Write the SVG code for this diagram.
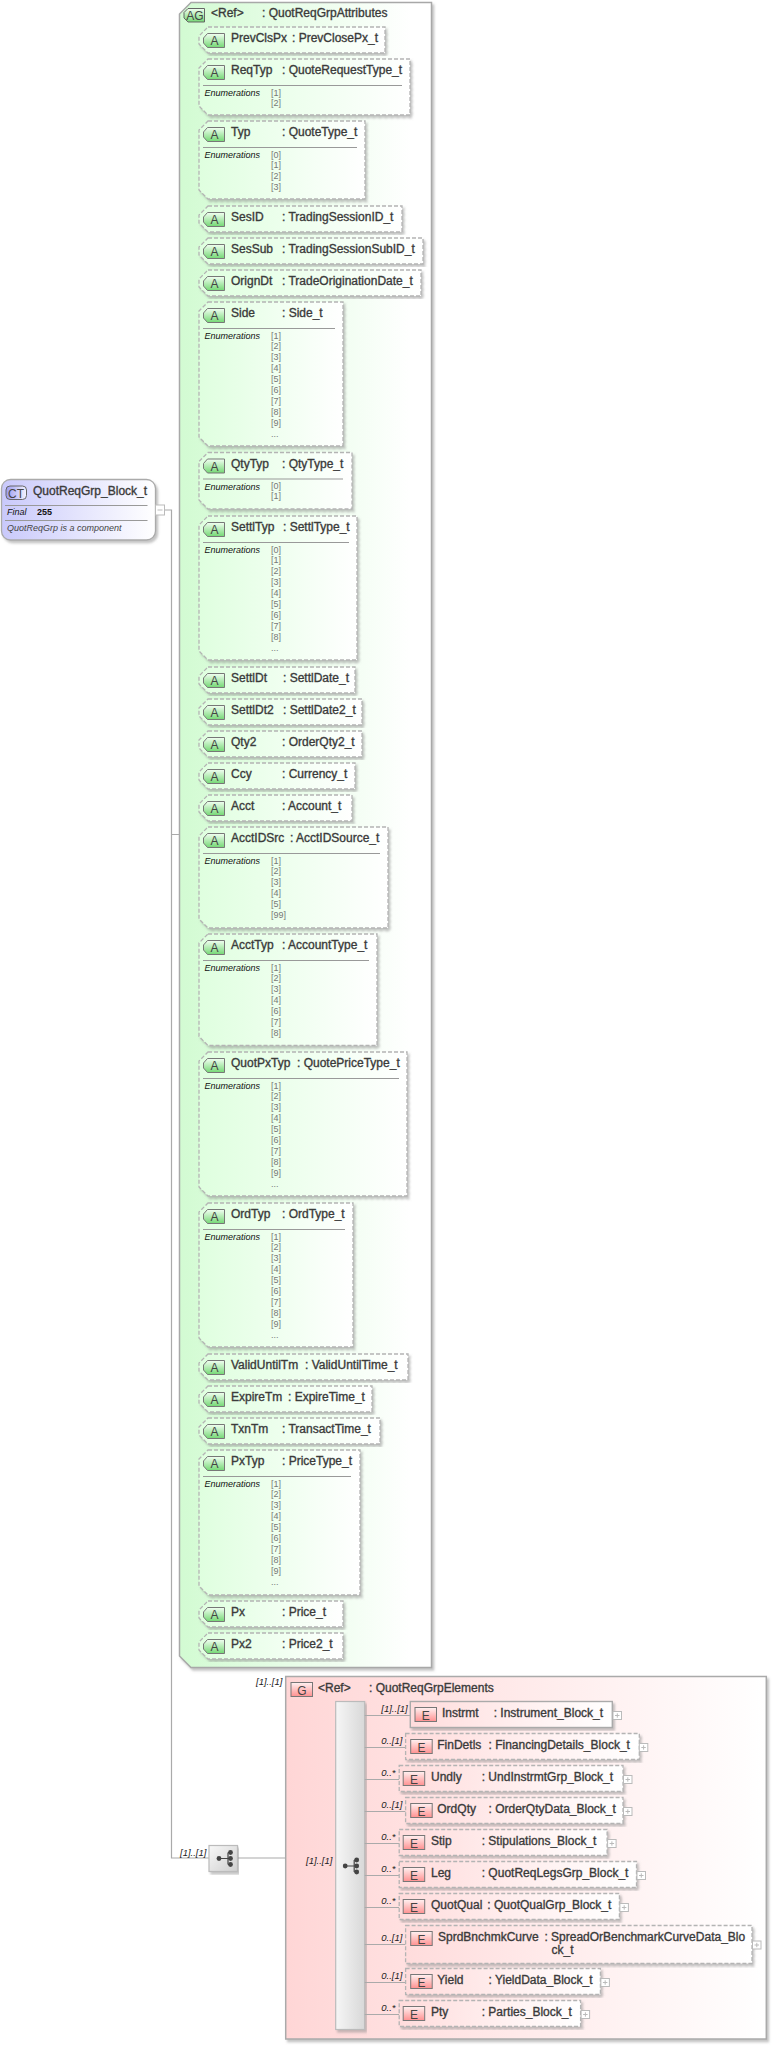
<svg xmlns="http://www.w3.org/2000/svg" xmlns:xlink="http://www.w3.org/1999/xlink" width="774" height="2045" viewBox="0 0 774 2045">
<style>
text{font-family:"Liberation Sans",Arial,sans-serif;fill:#333;font-size:12px}
.t{stroke:#444;stroke-width:.35}
.ic{text-anchor:middle;font-size:12px;fill:#444}
.en{font-size:9px;font-style:italic;fill:#111}
.v{font-size:9px;fill:#777}
.c{font-size:9.5px;font-style:italic;fill:#222}
.ab{fill:url(#gA);stroke:#b4b4b4;stroke-width:1.3;stroke-dasharray:4 2;filter:url(#sh)}
.eb{fill:url(#gE);stroke:#b4b4b4;stroke-width:1.3;stroke-dasharray:4 2;filter:url(#sh)}
.es{fill:url(#gE);stroke:#aaa;stroke-width:1.4;filter:url(#sh)}
.ln{stroke:#999;stroke-width:1;fill:none}
.cn{stroke:#aaa;stroke-width:1.2;fill:none}
.pb{fill:#fff;stroke:#bbb;stroke-width:1}
.pm{stroke:#bbb;stroke-width:1;fill:none}
.dot{fill:#444}
.sy{stroke:#444;stroke-width:1.2;fill:none}
</style>
<defs>
<filter id="sh" x="-5%" y="-5%" width="110%" height="115%"><feDropShadow dx="2" dy="2.5" stdDeviation="1" flood-color="#888" flood-opacity=".5"/></filter>
<linearGradient id="gAG"><stop offset="0" stop-color="#d2fbd2"/><stop offset=".92" stop-color="#fff"/></linearGradient>
<linearGradient id="gA"><stop offset="0" stop-color="#dfffdf"/><stop offset="1" stop-color="#fff"/></linearGradient>
<linearGradient id="gG"><stop offset="0" stop-color="#ffd6d6"/><stop offset="1" stop-color="#fff"/></linearGradient>
<linearGradient id="gE"><stop offset="0" stop-color="#ffdcdc"/><stop offset="1" stop-color="#fff"/></linearGradient>
<linearGradient id="gC"><stop offset="0" stop-color="#c9c9fb"/><stop offset="1" stop-color="#fff"/></linearGradient>
<linearGradient id="gCi"><stop offset="0" stop-color="#9c9cf0"/><stop offset="1" stop-color="#f4f4ff"/></linearGradient>
<linearGradient id="giA" x2="0" y2="1"><stop offset="0" stop-color="#f2fff2"/><stop offset="1" stop-color="#74d874"/></linearGradient>
<linearGradient id="giE" x2="0" y2="1"><stop offset="0" stop-color="#fff2f2"/><stop offset="1" stop-color="#ff9090"/></linearGradient>
<linearGradient id="gS"><stop offset="0" stop-color="#f6f6f6"/><stop offset="1" stop-color="#d8d8d8"/></linearGradient>
<linearGradient id="gS2" x2="1" y2="1"><stop offset="0" stop-color="#f8f8f8"/><stop offset="1" stop-color="#cfcfcf"/></linearGradient>
<path id="iA" d="M4.5,.5H21.5V14.5H4.5L.5,10V5Z" fill="url(#giA)" stroke="#777"/>
<rect id="iE" width="21.5" height="14" fill="url(#giE)" stroke="#777"/>
<g id="sym"><path class="sy" d="M0,0H9M9,-6V6M9,-6H11.5M9,0H11.5M9,6H11.5"/><circle class="dot" cx="0" cy="0" r="2.4"/><circle class="dot" cx="11.5" cy="-6" r="2.4"/><circle class="dot" cx="11.5" cy="0" r="2.4"/><circle class="dot" cx="11.5" cy="6" r="2.4"/></g>
</defs>

<g id="connectors">
<path class="cn" d="M164.5,510H171.5V1858H209M171.5,834.5H179M238,1858H285.700M285.700,1866H335.700"/>
<path class="cn" d="M189,40V1646M189,40H199M189,87.5H199M189,160H199M189,219H199M189,251H199M189,283H199M189,374.5H199M189,481H199M189,588H199M189,680H199M189,712H199M189,744H199M189,776H199M189,808H199M189,877.5H199M189,989H199M189,1124H199M189,1275H199M189,1367H199M189,1399H199M189,1431H199M189,1522.5H199M189,1614H199M189,1646H199"/>
</g>

<g id="QuotReqGrp_Block_t">
<rect x="1.5" y="479.5" width="154" height="60.5" rx="9" fill="url(#gC)" stroke="#aaa" stroke-width="1.3" filter="url(#sh)"/>
<rect x="6" y="486" width="20.5" height="13.5" rx="4" fill="url(#gCi)" stroke="#666"/>
<text class="ic" x="16" y="497.5">CT</text>
<text class="t" x="33" y="494.5">QuotReqGrp_Block_t</text>
<path class="ln" d="M5,505.5H147.5M5,520.5H147.5"/>
<text class="en" x="7" y="515">Final</text>
<text x="37" y="515" style="font-size:9px;font-weight:bold;fill:#111">255</text>
<text class="en" x="7" y="531" style="fill:#444">QuotReqGrp is a component</text>
<rect class="pb" x="155.5" y="505" width="9" height="10"/>
<path class="pm" d="M157.5,510H162.5"/>
</g>

<g id="QuotReqGrpAttributes">
<path d="M191,2.5H431.5V1667.5H191L179.5,1656V14Z" fill="url(#gAG)" stroke="#a8a8a8" stroke-width="1.5" filter="url(#sh)"/>
<path d="M188,8.5H204.5V22H188L184,18V12.5Z" fill="url(#giA)" stroke="#666"/>
<text class="ic" x="195" y="19.5">AG</text>
<text class="t" x="211" y="17">&lt;Ref&gt;</text>
<text class="t" x="262" y="17">: QuotReqGrpAttributes</text>
</g>

<g id="PrevClsPx" transform="translate(199,27)"><path class="ab" d="M9,0H186V26H9L0,17V9Z"/><use xlink:href="#iA" href="#iA" x="4" y="6"/><text class="ic" x="15.5" y="18">A</text><text class="t" x="32" y="15">PrevClsPx</text><text class="t" x="93" y="15">: PrevClosePx_t</text></g>

<g id="ReqTyp" transform="translate(199,59)"><path class="ab" d="M9,0H211V56H9L0,47V9Z"/><use xlink:href="#iA" href="#iA" x="4" y="6"/><text class="ic" x="15.5" y="18">A</text><text class="t" x="32" y="15">ReqTyp</text><text class="t" x="83" y="15">: QuoteRequestType_t</text><path class="ln" d="M4,26.5H203"/><text class="en" x="5.5" y="37">Enumerations</text><text class="v" x="72" y="36.5">[1]</text><text class="v" x="72" y="46.5">[2]</text></g>

<g id="Typ" transform="translate(199,121)"><path class="ab" d="M9,0H166V78H9L0,69V9Z"/><use xlink:href="#iA" href="#iA" x="4" y="6"/><text class="ic" x="15.5" y="18">A</text><text class="t" x="32" y="15">Typ</text><text class="t" x="83" y="15">: QuoteType_t</text><path class="ln" d="M4,26.5H158"/><text class="en" x="5.5" y="37">Enumerations</text><text class="v" x="72" y="36.5">[0]</text><text class="v" x="72" y="46.5">[1]</text><text class="v" x="72" y="57.5">[2]</text><text class="v" x="72" y="68.5">[3]</text></g>

<g id="SesID" transform="translate(199,206)"><path class="ab" d="M9,0H203V26H9L0,17V9Z"/><use xlink:href="#iA" href="#iA" x="4" y="6"/><text class="ic" x="15.5" y="18">A</text><text class="t" x="32" y="15">SesID</text><text class="t" x="83" y="15">: TradingSessionID_t</text></g>

<g id="SesSub" transform="translate(199,238)"><path class="ab" d="M9,0H224V26H9L0,17V9Z"/><use xlink:href="#iA" href="#iA" x="4" y="6"/><text class="ic" x="15.5" y="18">A</text><text class="t" x="32" y="15">SesSub</text><text class="t" x="83" y="15">: TradingSessionSubID_t</text></g>

<g id="OrignDt" transform="translate(199,270)"><path class="ab" d="M9,0H222V26H9L0,17V9Z"/><use xlink:href="#iA" href="#iA" x="4" y="6"/><text class="ic" x="15.5" y="18">A</text><text class="t" x="32" y="15">OrignDt</text><text class="t" x="83" y="15">: TradeOriginationDate_t</text></g>

<g id="Side" transform="translate(199,302)"><path class="ab" d="M9,0H144V144H9L0,135V9Z"/><use xlink:href="#iA" href="#iA" x="4" y="6"/><text class="ic" x="15.5" y="18">A</text><text class="t" x="32" y="15">Side</text><text class="t" x="83" y="15">: Side_t</text><path class="ln" d="M4,26.5H136"/><text class="en" x="5.5" y="37">Enumerations</text><text class="v" x="72" y="36.5">[1]</text><text class="v" x="72" y="46.5">[2]</text><text class="v" x="72" y="57.5">[3]</text><text class="v" x="72" y="68.5">[4]</text><text class="v" x="72" y="79.5">[5]</text><text class="v" x="72" y="90.5">[6]</text><text class="v" x="72" y="101.5">[7]</text><text class="v" x="72" y="112.5">[8]</text><text class="v" x="72" y="123.5">[9]</text><text class="v" x="72" y="134.5">...</text></g>

<g id="QtyTyp" transform="translate(199,452.5)"><path class="ab" d="M9,0H153V56.5H9L0,47.5V9Z"/><use xlink:href="#iA" href="#iA" x="4" y="6"/><text class="ic" x="15.5" y="18">A</text><text class="t" x="32" y="15">QtyTyp</text><text class="t" x="83" y="15">: QtyType_t</text><path class="ln" d="M4,26.5H144"/><text class="en" x="5.5" y="37">Enumerations</text><text class="v" x="72" y="36.5">[0]</text><text class="v" x="72" y="46.5">[1]</text></g>

<g id="SettlTyp" transform="translate(199,516)"><path class="ab" d="M9,0H158V144H9L0,135V9Z"/><use xlink:href="#iA" href="#iA" x="4" y="6"/><text class="ic" x="15.5" y="18">A</text><text class="t" x="32" y="15">SettlTyp</text><text class="t" x="84" y="15">: SettlType_t</text><path class="ln" d="M4,26.5H150"/><text class="en" x="5.5" y="37">Enumerations</text><text class="v" x="72" y="36.5">[0]</text><text class="v" x="72" y="46.5">[1]</text><text class="v" x="72" y="57.5">[2]</text><text class="v" x="72" y="68.5">[3]</text><text class="v" x="72" y="79.5">[4]</text><text class="v" x="72" y="90.5">[5]</text><text class="v" x="72" y="101.5">[6]</text><text class="v" x="72" y="112.5">[7]</text><text class="v" x="72" y="123.5">[8]</text><text class="v" x="72" y="134.5">...</text></g>

<g id="SettlDt" transform="translate(199,667)"><path class="ab" d="M9,0H156V26H9L0,17V9Z"/><use xlink:href="#iA" href="#iA" x="4" y="6"/><text class="ic" x="15.5" y="18">A</text><text class="t" x="32" y="15">SettlDt</text><text class="t" x="84" y="15">: SettlDate_t</text></g>

<g id="SettlDt2" transform="translate(199,699)"><path class="ab" d="M9,0H163V26H9L0,17V9Z"/><use xlink:href="#iA" href="#iA" x="4" y="6"/><text class="ic" x="15.5" y="18">A</text><text class="t" x="32" y="15">SettlDt2</text><text class="t" x="84" y="15">: SettlDate2_t</text></g>

<g id="Qty2" transform="translate(199,731)"><path class="ab" d="M9,0H163V26H9L0,17V9Z"/><use xlink:href="#iA" href="#iA" x="4" y="6"/><text class="ic" x="15.5" y="18">A</text><text class="t" x="32" y="15">Qty2</text><text class="t" x="83" y="15">: OrderQty2_t</text></g>

<g id="Ccy" transform="translate(199,763)"><path class="ab" d="M9,0H156V26H9L0,17V9Z"/><use xlink:href="#iA" href="#iA" x="4" y="6"/><text class="ic" x="15.5" y="18">A</text><text class="t" x="32" y="15">Ccy</text><text class="t" x="83" y="15">: Currency_t</text></g>

<g id="Acct" transform="translate(199,795)"><path class="ab" d="M9,0H153V26H9L0,17V9Z"/><use xlink:href="#iA" href="#iA" x="4" y="6"/><text class="ic" x="15.5" y="18">A</text><text class="t" x="32" y="15">Acct</text><text class="t" x="83" y="15">: Account_t</text></g>

<g id="AcctIDSrc" transform="translate(199,827)"><path class="ab" d="M9,0H189V101H9L0,92V9Z"/><use xlink:href="#iA" href="#iA" x="4" y="6"/><text class="ic" x="15.5" y="18">A</text><text class="t" x="32" y="15">AcctIDSrc</text><text class="t" x="91" y="15">: AcctIDSource_t</text><path class="ln" d="M4,26.5H181"/><text class="en" x="5.5" y="37">Enumerations</text><text class="v" x="72" y="36.5">[1]</text><text class="v" x="72" y="46.5">[2]</text><text class="v" x="72" y="57.5">[3]</text><text class="v" x="72" y="68.5">[4]</text><text class="v" x="72" y="79.5">[5]</text><text class="v" x="72" y="90.5">[99]</text></g>

<g id="AcctTyp" transform="translate(199,934)"><path class="ab" d="M9,0H178V111.500H9L0,102.500V9Z"/><use xlink:href="#iA" href="#iA" x="4" y="6"/><text class="ic" x="15.5" y="18">A</text><text class="t" x="32" y="15">AcctTyp</text><text class="t" x="83" y="15">: AccountType_t</text><path class="ln" d="M4,26.5H170"/><text class="en" x="5.5" y="37">Enumerations</text><text class="v" x="72" y="36.5">[1]</text><text class="v" x="72" y="46.5">[2]</text><text class="v" x="72" y="57.5">[3]</text><text class="v" x="72" y="68.5">[4]</text><text class="v" x="72" y="79.5">[6]</text><text class="v" x="72" y="90.5">[7]</text><text class="v" x="72" y="101.5">[8]</text></g>

<g id="QuotPxTyp" transform="translate(199,1052)"><path class="ab" d="M9,0H208V144H9L0,135V9Z"/><use xlink:href="#iA" href="#iA" x="4" y="6"/><text class="ic" x="15.5" y="18">A</text><text class="t" x="32" y="15">QuotPxTyp</text><text class="t" x="98" y="15">: QuotePriceType_t</text><path class="ln" d="M4,26.5H200"/><text class="en" x="5.5" y="37">Enumerations</text><text class="v" x="72" y="36.5">[1]</text><text class="v" x="72" y="46.5">[2]</text><text class="v" x="72" y="57.5">[3]</text><text class="v" x="72" y="68.5">[4]</text><text class="v" x="72" y="79.5">[5]</text><text class="v" x="72" y="90.5">[6]</text><text class="v" x="72" y="101.5">[7]</text><text class="v" x="72" y="112.5">[8]</text><text class="v" x="72" y="123.5">[9]</text><text class="v" x="72" y="134.5">...</text></g>

<g id="OrdTyp" transform="translate(199,1203)"><path class="ab" d="M9,0H154V144H9L0,135V9Z"/><use xlink:href="#iA" href="#iA" x="4" y="6"/><text class="ic" x="15.5" y="18">A</text><text class="t" x="32" y="15">OrdTyp</text><text class="t" x="83" y="15">: OrdType_t</text><path class="ln" d="M4,26.5H146"/><text class="en" x="5.5" y="37">Enumerations</text><text class="v" x="72" y="36.5">[1]</text><text class="v" x="72" y="46.5">[2]</text><text class="v" x="72" y="57.5">[3]</text><text class="v" x="72" y="68.5">[4]</text><text class="v" x="72" y="79.5">[5]</text><text class="v" x="72" y="90.5">[6]</text><text class="v" x="72" y="101.5">[7]</text><text class="v" x="72" y="112.5">[8]</text><text class="v" x="72" y="123.5">[9]</text><text class="v" x="72" y="134.5">...</text></g>

<g id="ValidUntilTm" transform="translate(199,1354)"><path class="ab" d="M9,0H209V26H9L0,17V9Z"/><use xlink:href="#iA" href="#iA" x="4" y="6"/><text class="ic" x="15.5" y="18">A</text><text class="t" x="32" y="15">ValidUntilTm</text><text class="t" x="106" y="15">: ValidUntilTime_t</text></g>

<g id="ExpireTm" transform="translate(199,1386)"><path class="ab" d="M9,0H173V26H9L0,17V9Z"/><use xlink:href="#iA" href="#iA" x="4" y="6"/><text class="ic" x="15.5" y="18">A</text><text class="t" x="32" y="15">ExpireTm</text><text class="t" x="89" y="15">: ExpireTime_t</text></g>

<g id="TxnTm" transform="translate(199,1418)"><path class="ab" d="M9,0H181V26H9L0,17V9Z"/><use xlink:href="#iA" href="#iA" x="4" y="6"/><text class="ic" x="15.5" y="18">A</text><text class="t" x="32" y="15">TxnTm</text><text class="t" x="83" y="15">: TransactTime_t</text></g>

<g id="PxTyp" transform="translate(199,1450)"><path class="ab" d="M9,0H161V145H9L0,136V9Z"/><use xlink:href="#iA" href="#iA" x="4" y="6"/><text class="ic" x="15.5" y="18">A</text><text class="t" x="32" y="15">PxTyp</text><text class="t" x="83" y="15">: PriceType_t</text><path class="ln" d="M4,26.5H152"/><text class="en" x="5.5" y="37">Enumerations</text><text class="v" x="72" y="36.5">[1]</text><text class="v" x="72" y="46.5">[2]</text><text class="v" x="72" y="57.5">[3]</text><text class="v" x="72" y="68.5">[4]</text><text class="v" x="72" y="79.5">[5]</text><text class="v" x="72" y="90.5">[6]</text><text class="v" x="72" y="101.5">[7]</text><text class="v" x="72" y="112.5">[8]</text><text class="v" x="72" y="123.5">[9]</text><text class="v" x="72" y="134.5">...</text></g>

<g id="Px" transform="translate(199,1601)"><path class="ab" d="M9,0H144V26H9L0,17V9Z"/><use xlink:href="#iA" href="#iA" x="4" y="6"/><text class="ic" x="15.5" y="18">A</text><text class="t" x="32" y="15">Px</text><text class="t" x="83" y="15">: Price_t</text></g>

<g id="Px2" transform="translate(199,1633)"><path class="ab" d="M9,0H144V26H9L0,17V9Z"/><use xlink:href="#iA" href="#iA" x="4" y="6"/><text class="ic" x="15.5" y="18">A</text><text class="t" x="32" y="15">Px2</text><text class="t" x="83" y="15">: Price2_t</text></g>

<g id="sequence1">
<rect x="209" y="1845.500" width="28.500" height="26" fill="url(#gS2)" stroke="#bbb" stroke-width="1.2" filter="url(#sh)"/>
<use xlink:href="#sym" href="#sym" x="219" y="1858.500"/>
<text class="c" x="180" y="1855.500">[1]..[1]</text>
</g>

<g id="QuotReqGrpElements">
<rect x="285.700" y="1676.500" width="480.600" height="362.500" fill="url(#gG)" stroke="#aaa" stroke-width="1.5" filter="url(#sh)"/>
<use xlink:href="#iE" href="#iE" x="291" y="1682.500"/>
<text class="ic" x="301.800" y="1694.500">G</text>
<text class="t" x="318" y="1691.500">&lt;Ref&gt;</text>
<text class="t" x="369" y="1691.500">: QuotReqGrpElements</text>
<text class="c" x="256" y="1685">[1]..[1]</text>
</g>

<g id="sequence2">
<rect x="335.700" y="1701.500" width="29" height="328" fill="url(#gS)" stroke="#bbb" stroke-width="1.2" filter="url(#sh)"/>
<use xlink:href="#sym" href="#sym" x="345.200" y="1866"/>
<text class="c" x="306" y="1863.500">[1]..[1]</text>
</g>

<g id="element-connectors">
<path class="cn" d="M364.700,1715.500H410.300M364.700,1747.500H405.600M364.700,1779.500H399.200M364.700,1811.500H405.600M364.700,1843.500H399.200M364.700,1875.500H399.200M364.700,1907.500H399.200M364.700,1944.500H405.600M364.700,1982.500H405.600M364.700,2014.500H399.200"/>
</g>

<g id="Instrmt" transform="translate(410.300,1701.500)"><rect class="es" width="202" height="26"/><use xlink:href="#iE" href="#iE" x="4.700" y="6"/><text class="ic" x="15.500" y="18">E</text><text class="t" x="31.700" y="15.500">Instrmt</text><text class="t" x="83.400" y="15.500">: Instrument_Block_t</text><rect class="pb" x="202.700" y="10" width="8.500" height="8"/><path class="pm" d="M204.700,14H209.200M207,11.800V16.200"/><text class="c" x="-29" y="10.500">[1]..[1]</text></g>

<g id="FinDetls" transform="translate(405.600,1733.500)"><rect class="eb" width="233.700" height="26"/><use xlink:href="#iE" href="#iE" x="5.100" y="6"/><text class="ic" x="15.900" y="18">E</text><text class="t" x="31.700" y="15.500">FinDetls</text><text class="t" x="82.900" y="15.500">: FinancingDetails_Block_t</text><rect class="pb" x="233.700" y="10" width="8.500" height="8"/><path class="pm" d="M235.700,14H240.200M238,11.800V16.200"/><text class="c" x="-24.300" y="10.500">0..[1]</text></g>

<g id="Undly" transform="translate(399.200,1765.500)"><rect class="eb" width="223.800" height="26"/><use xlink:href="#iE" href="#iE" x="4" y="6"/><text class="ic" x="14.800" y="18">E</text><text class="t" x="31.800" y="15.500">Undly</text><text class="t" x="82.500" y="15.500">: UndInstrmtGrp_Block_t</text><rect class="pb" x="224.300" y="10" width="8.500" height="8"/><path class="pm" d="M226.300,14H230.800M228.600,11.800V16.200"/><text class="c" x="-17.900" y="10.500">0..*</text></g>

<g id="OrdQty" transform="translate(405.600,1797.500)"><rect class="eb" width="217.400" height="26"/><use xlink:href="#iE" href="#iE" x="5.100" y="6"/><text class="ic" x="15.900" y="18">E</text><text class="t" x="31.700" y="15.500">OrdQty</text><text class="t" x="82.900" y="15.500">: OrderQtyData_Block_t</text><rect class="pb" x="217.900" y="10" width="8.500" height="8"/><path class="pm" d="M219.900,14H224.400M222.200,11.800V16.200"/><text class="c" x="-24.300" y="10.500">0..[1]</text></g>

<g id="Stip" transform="translate(399.200,1829.500)"><rect class="eb" width="207.900" height="26"/><use xlink:href="#iE" href="#iE" x="4" y="6"/><text class="ic" x="14.800" y="18">E</text><text class="t" x="31.800" y="15.500">Stip</text><text class="t" x="82.500" y="15.500">: Stipulations_Block_t</text><rect class="pb" x="208.400" y="10" width="8.500" height="8"/><path class="pm" d="M210.400,14H214.900M212.700,11.800V16.200"/><text class="c" x="-17.900" y="10.500">0..*</text></g>

<g id="Leg" transform="translate(399.200,1861.500)"><rect class="eb" width="237.300" height="26"/><use xlink:href="#iE" href="#iE" x="4" y="6"/><text class="ic" x="14.800" y="18">E</text><text class="t" x="31.800" y="15.500">Leg</text><text class="t" x="82.500" y="15.500">: QuotReqLegsGrp_Block_t</text><rect class="pb" x="237.800" y="10" width="8.500" height="8"/><path class="pm" d="M239.800,14H244.300M242.100,11.800V16.200"/><text class="c" x="-17.900" y="10.500">0..*</text></g>

<g id="QuotQual" transform="translate(399.200,1893.500)"><rect class="eb" width="220.200" height="26"/><use xlink:href="#iE" href="#iE" x="4" y="6"/><text class="ic" x="14.800" y="18">E</text><text class="t" x="31.800" y="15.500">QuotQual</text><text class="t" x="88.100" y="15.500">: QuotQualGrp_Block_t</text><rect class="pb" x="220.700" y="10" width="8.500" height="8"/><path class="pm" d="M222.700,14H227.200M225,11.800V16.200"/><text class="c" x="-17.900" y="10.500">0..*</text></g>

<g id="SprdBnchmkCurve" transform="translate(405.600,1925.500)"><rect class="eb" width="346.400" height="38"/><use xlink:href="#iE" href="#iE" x="5.100" y="6"/><text class="ic" x="15.900" y="18">E</text><text class="t" x="32.400" y="15.500">SprdBnchmkCurve</text><text class="t" x="138.800" y="15.500">: SpreadOrBenchmarkCurveData_Blo</text><text class="t" x="146" y="28">ck_t</text><rect class="pb" x="346.900" y="15.500" width="8.500" height="8"/><path class="pm" d="M348.900,19.500H353.400M351.200,17.300V21.700"/><text class="c" x="-24.300" y="15.500">0..[1]</text></g>

<g id="Yield" transform="translate(405.600,1968.500)"><rect class="eb" width="194.800" height="26"/><use xlink:href="#iE" href="#iE" x="5.100" y="6"/><text class="ic" x="15.900" y="18">E</text><text class="t" x="31.700" y="15.500">Yield</text><text class="t" x="82.900" y="15.500">: YieldData_Block_t</text><rect class="pb" x="195.300" y="10" width="8.500" height="8"/><path class="pm" d="M197.300,14H201.800M199.600,11.800V16.200"/><text class="c" x="-24.300" y="10.500">0..[1]</text></g>

<g id="Pty" transform="translate(399.200,2000.500)"><rect class="eb" width="181.400" height="26"/><use xlink:href="#iE" href="#iE" x="4" y="6"/><text class="ic" x="14.800" y="18">E</text><text class="t" x="31.800" y="15.500">Pty</text><text class="t" x="82.500" y="15.500">: Parties_Block_t</text><rect class="pb" x="181.900" y="10" width="8.500" height="8"/><path class="pm" d="M183.900,14H188.400M186.200,11.800V16.200"/><text class="c" x="-17.900" y="10.500">0..*</text></g>
</svg>
